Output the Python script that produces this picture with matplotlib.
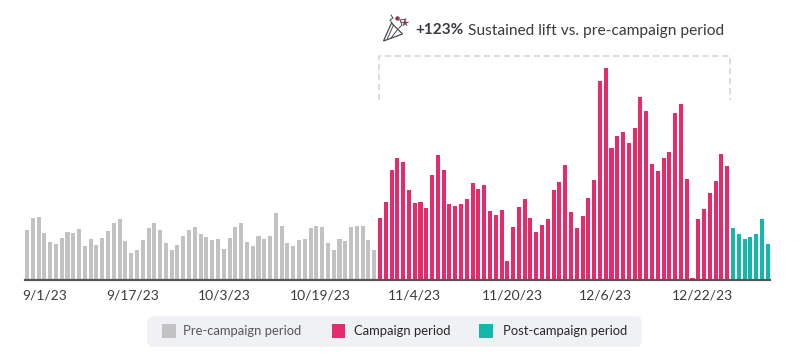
import matplotlib
matplotlib.use("Agg")
import matplotlib.pyplot as plt
from matplotlib.patches import FancyBboxPatch, Rectangle, Polygon

pre_values = [50,62,63,47,37.7,36,42.3,48,47,50.7,34,41.3,34.7,42.3,49,57,61,38.7,27.3,30,
              39.7,51.7,57,50,36.7,30,35,44,50,52.7,46.3,43.3,39.7,41.3,31.3,42.3,53.3,57,37.7,34,
              44,41.3,44,66.7,54.3,36.7,34,39.7,40.7,51.7,54.3,52.7,36.7,30.3,40.7,39,52.7,54.3,54.3,39.7,30.3]
campaign_values = [61.7,77.7,110,122,118.3,90,76.7,77.7,72,105,125.3,110,75.7,74,75.7,81,96.7,91,95,69,
                   65.3,69.7,19.3,52.7,73,81,62.5,48.3,55.3,61,90.3,97.7,114.7,68,52,63.7,82.3,100.3,199,211.7,
                   132,144.3,148,137.3,152.3,183,168.7,116.3,109.3,122,128,167,176,101.3,2.3,61,71.3,87,99.3,126.3,113.7]
post_values = [51.7,46.3,40.7,43.3,46.3,61,36]
tick_labels = ["9/1/23","9/17/23","10/3/23","10/19/23","11/4/23","11/20/23","12/6/23","12/22/23"]
tick_slots = [3.1,18.3,34,50.7,67,83.9,100,116.8]
legend_labels = ["Pre-campaign period","Campaign period","Post-campaign period"]

GREY, PINK, TEAL = "#C2C2C2", "#E52B6B", "#14B8AB"
TEXT = "#3A3A40"
W, H = 800, 358
plt.rcParams["font.family"] = ["Lato", "DejaVu Sans"]
fig = plt.figure(figsize=(W/100, H/100), dpi=100)

STEP = 5.787
left, right, base = 24.5, 769.5, 280
ax = fig.add_axes([left/W, 1-base/H, (right-left)/W, base/H])
ax.set_xlim((left-27)/STEP, (right-27)/STEP)
ax.set_ylim(0, base)
n1, n2 = len(pre_values), len(campaign_values)
ax.bar(range(n1), pre_values, width=0.7, color=GREY, linewidth=0)
ax.bar(range(n1, n1+n2), campaign_values, width=0.7, color=PINK, linewidth=0)
ax.bar(range(n1+n2, n1+n2+len(post_values)), post_values, width=0.7, color=TEAL, linewidth=0)
for s in ["top","left","right"]:
    ax.spines[s].set_visible(False)
ax.spines["bottom"].set_color("#55555A")
ax.spines["bottom"].set_linewidth(1.6)
ax.set_yticks([])
ax.set_xticks(tick_slots, tick_labels)
ax.tick_params(axis="x", length=0, pad=6.5, labelsize=10, labelcolor=TEXT)
ax.patch.set_alpha(0)

ov = fig.add_axes([0,0,1,1])
ov.set_xlim(0,W); ov.set_ylim(H,0); ov.axis("off"); ov.patch.set_alpha(0)

# bracket
ov.plot([378.5,378.5,729.5,729.5],[100,55.5,55.5,100],color="#D9D9DD",lw=1.3,
        linestyle=(0,(3.5,2)),solid_joinstyle="miter")

# annotation
ov.text(415,30.5,"+123%",fontsize=11,fontweight="bold",color=TEXT,va="center",ha="left")
ov.text(468,30.5,"Sustained lift vs. pre-campaign period",fontsize=11.15,color=TEXT,va="center",ha="left")

# party icon
ic = "#4A4A50"
ov.add_patch(Polygon([(383.5,41),(391.5,23),(402.5,34)],closed=True,fill=False,ec=ic,lw=0.9))
ov.plot([387,393.5],[39.5,25],color=ic,lw=0.7); ov.plot([391,398],[38,29],color=ic,lw=0.7)
ov.plot([392,390,393,391],[23,20,18,15],color=ic,lw=0.7)
ov.plot([399,402,400,406],[28,25,20,19],color=ic,lw=0.7)
ov.plot([397],[18],marker="o",ms=2.8,color="#B0234F",mec=ic,mew=0.3)
ov.plot([404.5],[23],marker="*",ms=5.5,color="#B0234F",mec=ic,mew=0.3)

# legend
ov.add_patch(FancyBboxPatch((150,319),489,25,boxstyle="round,pad=0,rounding_size=3",
                            fc="#F0F1F5",ec="#F0F1F5",lw=4,joinstyle="round"))
for x, c, t, tx, col in [(162,GREY,legend_labels[0],183,"#55555A"),
                         (331.5,PINK,legend_labels[1],353.5,"#26262B"),
                         (479,TEAL,legend_labels[2],503,"#26262B")]:
    ov.add_patch(Rectangle((x,324),13.5,14,fc=c,ec="none"))
    ov.text(tx,331,t,fontsize=9.4,color=col,va="center",ha="left")

fig.savefig("out.png",dpi=100,facecolor="white")
